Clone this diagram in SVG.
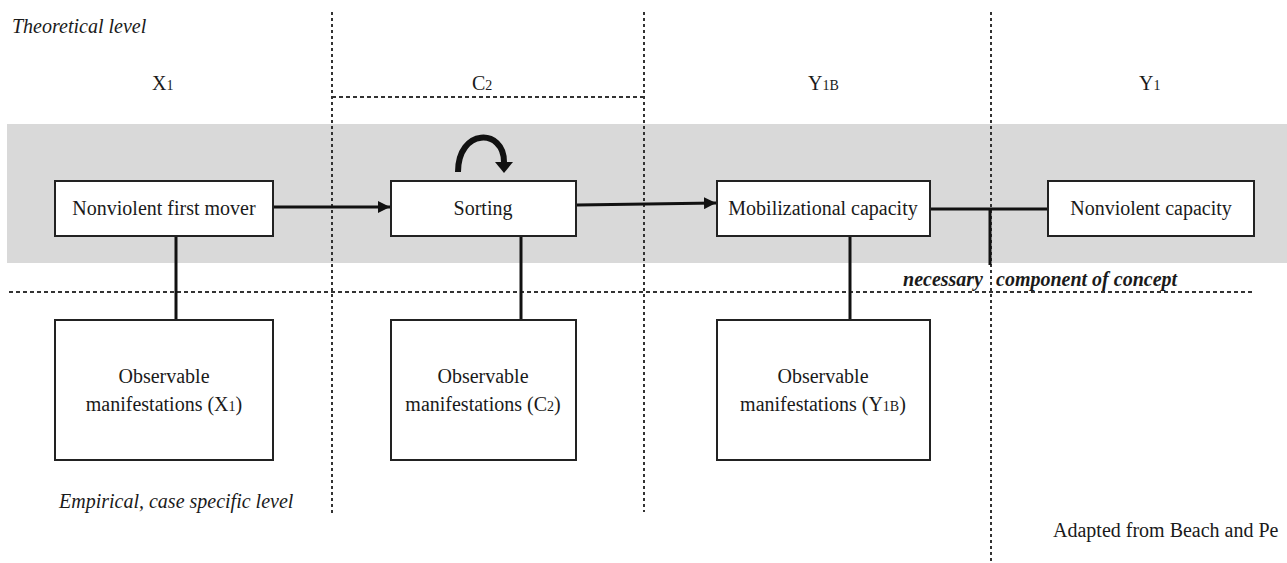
<svg xmlns="http://www.w3.org/2000/svg" width="1287" height="563" viewBox="0 0 1287 563">
  <style>
    text { font-family: "Liberation Serif", "Times New Roman", serif; font-size: 20px; fill: #1a1a1a; }
    .it { font-style: italic; }
    .bi { font-style: italic; font-weight: bold; }
    .mid { text-anchor: middle; }
    .sub { font-size: 14px; }
    .box { fill: #ffffff; stroke: #222222; stroke-width: 2; }
    .link { stroke: #111111; stroke-width: 3; fill: none; }
    .vdot { stroke: #333333; stroke-width: 2; stroke-dasharray: 3 3; fill: none; }
    .hdot { stroke: #333333; stroke-width: 2; stroke-dasharray: 4 3; fill: none; }
  </style>
  <defs>
    <marker id="head" viewBox="0 0 10 10" refX="10" refY="5" markerWidth="4" markerHeight="4" orient="auto" markerUnits="strokeWidth">
      <path d="M0,0 L10,5 L0,10 Z" fill="#111111"/>
    </marker>
  </defs>

  <!-- theoretical band -->
  <rect x="7" y="124" width="1280" height="139" fill="#d9d9d9"/>

  <!-- column and level separators -->
  <g id="separators">
    <line class="vdot" x1="332" y1="12" x2="332" y2="516"/>
    <line class="vdot" x1="644" y1="12" x2="644" y2="512"/>
    <line class="vdot" x1="991" y1="12" x2="991" y2="561"/>
    <line class="hdot" x1="332" y1="97" x2="644" y2="97"/>
    <line class="hdot" x1="9" y1="292" x2="1255" y2="292"/>
  </g>

  <!-- level and column labels -->
  <g id="labels">
    <text class="it" x="12" y="33">Theoretical level</text>
    <text class="it" x="59" y="508">Empirical, case specific level</text>
    <text x="152" y="90">X<tspan class="sub">1</tspan></text>
    <text x="472" y="90">C<tspan class="sub">2</tspan></text>
    <text x="808" y="90">Y<tspan class="sub">1B</tspan></text>
    <text x="1139" y="90">Y<tspan class="sub">1</tspan></text>
    <text class="bi" x="983" y="286" text-anchor="end">necessary</text>
    <text class="bi" x="996" y="286">component of concept</text>
    <text x="1053" y="537">Adapted from Beach and Pe</text>
  </g>

  <!-- connectors -->
  <g id="connectors">
    <line class="link" x1="274" y1="207" x2="390" y2="207" marker-end="url(#head)"/>
    <line class="link" x1="577" y1="205" x2="716" y2="203" stroke-width="2.6" marker-end="url(#head)"/>
    <line class="link" x1="930" y1="209" x2="1048" y2="209"/>
    <line class="link" x1="990" y1="209" x2="990" y2="265" stroke-width="4.5"/>
    <line class="link" x1="176" y1="236" x2="176" y2="319"/>
    <line class="link" x1="521" y1="236" x2="521" y2="319"/>
    <line class="link" x1="850" y1="236" x2="850" y2="319"/>
    <!-- self-loop over Sorting -->
    <path d="M458,172 C458,128 504,128 504,162" fill="none" stroke="#111111" stroke-width="6"/>
    <polygon points="495,162 513,162 504,173" fill="#111111"/>
  </g>

  <!-- theoretical nodes -->
  <g id="node-x1">
    <rect class="box" x="55" y="181" width="218" height="55"/>
    <text class="mid" x="164" y="215">Nonviolent first mover</text>
  </g>
  <g id="node-c2">
    <rect class="box" x="391" y="181" width="185" height="55"/>
    <text class="mid" x="483" y="215">Sorting</text>
  </g>
  <g id="node-y1b">
    <rect class="box" x="717" y="181" width="213" height="55"/>
    <text class="mid" x="823" y="215">Mobilizational capacity</text>
  </g>
  <g id="node-y1">
    <rect class="box" x="1048" y="181" width="206" height="55"/>
    <text class="mid" x="1151" y="215">Nonviolent capacity</text>
  </g>

  <!-- empirical nodes -->
  <g id="obs-x1">
    <rect class="box" x="55" y="320" width="218" height="140"/>
    <text class="mid" x="164" y="383">Observable</text>
    <text class="mid" x="164" y="411">manifestations (X<tspan class="sub">1</tspan>)</text>
  </g>
  <g id="obs-c2">
    <rect class="box" x="391" y="320" width="185" height="140"/>
    <text class="mid" x="483" y="383">Observable</text>
    <text class="mid" x="483" y="411">manifestations (C<tspan class="sub">2</tspan>)</text>
  </g>
  <g id="obs-y1b">
    <rect class="box" x="717" y="320" width="213" height="140"/>
    <text class="mid" x="823" y="383">Observable</text>
    <text class="mid" x="823" y="411">manifestations (Y<tspan class="sub">1B</tspan>)</text>
  </g>
</svg>
